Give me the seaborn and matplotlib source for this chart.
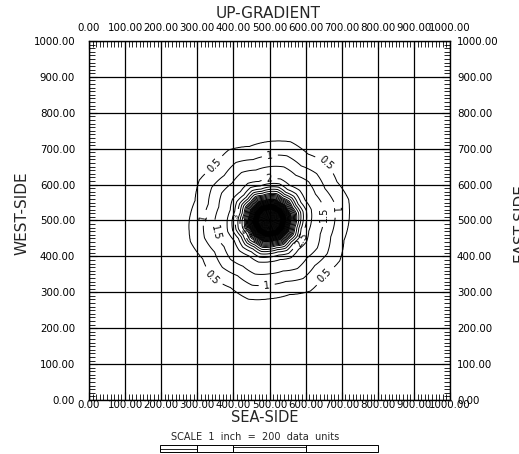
import numpy as np
import matplotlib
matplotlib.use("Agg")
import matplotlib.pyplot as plt
from matplotlib.patches import Rectangle
import seaborn as sns

# ------------------------------------------
# data
# ------------------------------------------
source_x, source_y = 500.0, 500.0

# distance from the source (data units) vs. concentration
profile_r = [0, 30, 45, 60, 75, 90, 100, 116, 150, 181, 220, 300, 450, 800]
profile_c = [30.0, 20.0, 12.0, 7.0, 4.5, 3.2, 2.6, 2.0, 1.5, 1.0, 0.5, 0.2, 0.05, 0.0]

# waviness of the rings, every 15 degrees starting east, counter-clockwise
wobble_deg = [0, 15, 30, 45, 60, 75, 90, 105, 120, 135, 150, 165,
              180, 195, 210, 225, 240, 255, 270, 285, 300, 315, 330, 345]
wobble_fac = [1.00, 1.03, 0.98, 1.02, 0.97, 1.03, 1.00, 0.97, 1.03, 0.98, 1.02, 0.97,
              1.01, 1.03, 0.97, 1.02, 0.98, 1.03, 0.99, 0.97, 1.03, 0.98, 1.02, 0.97]

# labelled levels must be the first levels of the contour set
labelled_levels = [0.5, 1.0, 1.5, 2.0, 2.5, 3.0, 3.5, 4.0, 4.5, 5.0]
label_spots = [(348, 652), (652, 652), (348, 348), (652, 348),   # 0.5
               (501, 680), (492, 322), (326, 506), (680, 530),   # 1
               (363, 469), (645, 517),                           # 1.5
               (500, 615), (589, 446)]                           # 2
# the crowded little labels left of the centre
inner_spots = [(410, 510), (425, 470), (440, 485), (452, 465)]

contour_step = 0.5
contour_top = 30.0

tick_vals = [0, 100, 200, 300, 400, 500, 600, 700, 800, 900, 1000]
tick_text = [f"{v:.2f}" for v in tick_vals]

# ------------------------------------------
# style
# ------------------------------------------
sns.set_style("white")
plt.rcParams['font.family'] = ['DejaVu Sans']
plt.rcParams['axes.unicode_minus'] = False

fig = plt.figure(figsize=(5.19, 4.54), dpi=100)
ax = fig.add_axes([89 / 519, 1 - 400 / 454, 361 / 519, 359 / 454])

# concentration field on a grid
gx = np.linspace(0, 1000, 801)
GX, GY = np.meshgrid(gx, gx)
dx, dy = GX - source_x, GY - source_y
ang = np.degrees(np.arctan2(dy, dx)) % 360
fac = np.interp(ang, wobble_deg + [360], wobble_fac + [wobble_fac[0]])
dist = np.hypot(dx, dy) / fac
conc = np.interp(dist, profile_r, profile_c)

levels = np.arange(contour_step, contour_top + 0.01, contour_step)
cs = ax.contour(GX, GY, conc, levels=levels, colors='black', linewidths=0.7)
texts = ax.clabel(cs, levels=labelled_levels, manual=label_spots + inner_spots,
                  inline=True, fontsize=7, fmt=lambda v: f"{v:g}")
for t in texts[len(label_spots):]:
    t.set_fontsize(5)

# axes, grid, ticks
ax.set_xlim(0, 1000)
ax.set_ylim(0, 1000)
ax.set_xticks(tick_vals)
ax.set_yticks(tick_vals)
ax.set_xticks(np.arange(0, 1001, 10), minor=True)
ax.set_yticks(np.arange(0, 1001, 10), minor=True)
ax.set_xticklabels(tick_text)
ax.set_yticklabels(tick_text)
ax.grid(True, which='major', color='black', linewidth=0.9)
ax.set_axisbelow(False)
for s in ax.spines.values():
    s.set_color('black')
    s.set_linewidth(1.0)
    s.set_visible(True)

ax.tick_params(axis='both', which='both', direction='in', colors='black',
               top=True, bottom=True, left=True, right=True,
               labeltop=False, labelright=False, labelsize=7.4)
ax.tick_params(which='major', length=6, width=0.8)
ax.tick_params(which='minor', length=4, width=0.6)
ax.tick_params(axis='x', which='major', pad=0)
ax.tick_params(axis='y', which='major', pad=10)

# labels on top and right sit at their own distance
top = ax.secondary_xaxis('top')
top.set_xticks(tick_vals)
top.set_xticklabels(tick_text)
top.tick_params(length=0, pad=6, labelsize=7.4, colors='black')
right = ax.secondary_yaxis('right')
right.set_yticks(tick_vals)
right.set_yticklabels(tick_text)
right.tick_params(length=0, pad=5, labelsize=7.4, colors='black')
for sec in (top, right):
    for s in sec.spines.values():
        s.set_visible(False)

# side titles
fig.text(268 / 519, 1 - 13 / 454, "UP-GRADIENT", ha='center', va='center', fontsize=11)
fig.text(265 / 519, 1 - 417 / 454, "SEA-SIDE", ha='center', va='center', fontsize=10.5)
fig.text(22 / 519, 1 - 213 / 454, "WEST-SIDE", ha='center', va='center',
         rotation=90, fontsize=11)
fig.text(513 / 519, 1 - 223 / 454, "EAST-SIDE", ha='left', va='center',
         rotation=90, fontsize=11)
fig.text(255 / 519, 1 - 437 / 454, "SCALE  1  inch  =  200  data  units",
         ha='center', va='center', fontsize=7)

# scale bar
bar_edges = [160, 197, 233, 306, 378]
y0, y1 = 1 - 452 / 454, 1 - 445 / 454
for a, b in zip(bar_edges[:-1], bar_edges[1:]):
    fig.add_artist(Rectangle((a / 519, y0), (b - a) / 519, y1 - y0,
                             transform=fig.transFigure, fill=False,
                             edgecolor='black', linewidth=0.7))
fig.add_artist(plt.Line2D([160 / 519, 197 / 519], [(y0 + y1) / 2] * 2,
                          transform=fig.transFigure, color='black', linewidth=0.6))
fig.add_artist(plt.Line2D([233 / 519, 306 / 519], [y1 - 0.004] * 2,
                          transform=fig.transFigure, color='black', linewidth=0.6))

fig.savefig("out.png", dpi=100)
plt.close(fig)
